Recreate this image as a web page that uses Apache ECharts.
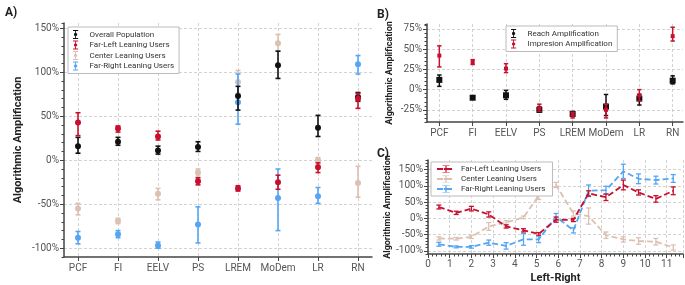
<!DOCTYPE html>
<html>
<head>
<meta charset="utf-8">
<script src="https://cdn.jsdelivr.net/npm/echarts@6/dist/echarts.min.js"></script>
<style>
  html, body { margin: 0; padding: 0; background: #fff; }
  #main { width: 685px; height: 285px; }
</style>
</head>
<body>
<div id="main"></div>
<script>
// ---- panel A: amplification by party, per user group
var partyCats = ['PCF', 'FI', 'EELV', 'PS', 'LREM', 'MoDem', 'LR', 'RN'];

var overallVal  = [16, 21, 11, 15, 73, 108, 37, 72];
var overallLow  = [8, 17, 7, 10, 57, 93, 27, 67];
var overallHigh = [26, 26, 16, 21, 84, 124, 51, 77];

var farLeftVal  = [43, 36, 27, -24, -32, -25, -8, 70];
var farLeftLow  = [28, 32, 23, -28, -35, -33, -14, 59];
var farLeftHigh = [54, 39, 33, -20, -29, -17, -3, 76];

var centerVal  = [-55, -69, -38, -14, 89, 133, 0, -26];
var centerLow  = [-62, -72, -45, -18, 76, 124, -5, -42];
var centerHigh = [-49, -66, -32, -10, 102, 143, 3, -7];

var farRightVal  = [-88, -84, -97, -73, 66, -43, -41, 109];
var farRightLow  = [-95, -88, -100, -94, 41, -80, -49, 98];
var farRightHigh = [-81, -80, -93, -53, 98, -10, -31, 119];

// ---- panel B: reach vs impression
var reachVal  = [12, -10, -7, -25, -30, -21, -11, 11];
var reachLow  = [4, -12, -12, -28, -33, -32, -19, 7];
var reachHigh = [18, -8, -1, -21, -27, -6, -6, 17];

var imprVal  = [42, 34, 26, -23, -31, -25, -7, 66];
var imprLow  = [28, 31, 21, -27, -35, -35, -14, 60];
var imprHigh = [54, 37, 32, -18, -28, -18, 0, 77];

// ---- panel C: along the left-right scale
var lrPos = [0.5, 1.3, 2.0, 2.8, 3.6, 4.4, 5.1, 5.9, 6.7, 7.4, 8.2, 9.0, 9.7, 10.5, 11.3];
var cLeftVal   = [35, 17, 30, 12, -25, -37, -48, -4, -5, 77, 65, 103, 80, 60, 85];
var cLeftErr   = [6, 5, 7, 8, 5, 5, 4, 8, 5, 8, 10, 15, 8, 10, 12];
var cCenterVal = [-62, -63, -57, -25, -13, 3, 70, 103, 15, 7, -52, -65, -70, -72, -90];
var cCenterErr = [5, 4, 5, 12, 6, 4, 12, 8, 8, 25, 10, 8, 10, 10, 8];
var cRightVal  = [-80, -88, -88, -75, -85, -65, -65, 5, -37, 85, 87, 145, 122, 118, 123];
var cRightErr  = [6, 3, 4, 8, 10, 18, 10, 10, 8, 18, 12, 22, 15, 12, 12];

var ticksA = [-100, -50, 0, 50, 100, 150];
var ticksB = [-25, 0, 25, 50, 75];
var ticksC = [-100, -50, 0, 50, 100, 150];

var BLACK = '#111111', RED = '#c8102e', BEIGE = '#dcc0b2', BLUE = '#55a5f5';
var FONT = 'Roboto';
var AXIS_COL = '#444';

var errIcon = 'path://M0,0h8v1.4h-8zM3.3,0h1.4v14h-1.4zM0,12.6h8v1.4h-8zM1.6,5h4.8v4h-4.8z';

function pts(xs, vals) {
  return vals.map(function (v, i) { return [xs[i], v]; });
}
function bars(xs, lows, highs) {
  return lows.map(function (l, i) { return [xs[i], l, highs[i]]; });
}
function barsErr(xs, vals, errs) {
  return vals.map(function (v, i) { return [xs[i], v - errs[i], v + errs[i]]; });
}

function errRender(capW, lw) {
  return function (params, api) {
    var x = api.value(0);
    var lo = api.coord([x, api.value(1)]);
    var hi = api.coord([x, api.value(2)]);
    var st = { stroke: api.visual('color'), lineWidth: lw };
    return {
      type: 'group',
      children: [
        { type: 'line', shape: { x1: lo[0], y1: lo[1], x2: hi[0], y2: hi[1] }, style: st },
        { type: 'line', shape: { x1: lo[0] - capW, y1: lo[1], x2: lo[0] + capW, y2: lo[1] }, style: st },
        { type: 'line', shape: { x1: hi[0] - capW, y1: hi[1], x2: hi[0] + capW, y2: hi[1] }, style: st }
      ]
    };
  };
}

var idx = partyCats.map(function (c, i) { return i; });

function errSeries(name, color, xi, yi, data, capW, lw, z) {
  return {
    name: name, type: 'custom', xAxisIndex: xi, yAxisIndex: yi,
    renderItem: errRender(capW, lw), itemStyle: { color: color },
    encode: { x: 0, y: [1, 2] }, data: data, z: z, silent: true
  };
}
function dotSeries(name, color, xi, yi, data, symbol, size, z) {
  return {
    name: name, type: 'scatter', xAxisIndex: xi, yAxisIndex: yi,
    symbol: symbol, symbolSize: size, itemStyle: { color: color, opacity: 1 },
    data: data, z: z
  };
}

var pctLabel = { fontFamily: FONT, fontSize: 10, color: '#555', formatter: '{value}%' };
var dashGrid = { show: true, lineStyle: { color: '#c8c8c8', type: [3, 2], width: 0.8 } };

function mainY(grid, min, max, ticks, gap, nameSize) {
  return {
    type: 'value', gridIndex: grid, min: min, max: max,
    name: 'Algorithmic Amplification', nameLocation: 'middle', nameRotate: 90, nameGap: gap,
    nameTextStyle: { fontFamily: FONT, fontSize: nameSize, fontWeight: 'bold', color: '#222' },
    axisLine: { show: true, onZero: false, lineStyle: { color: AXIS_COL, width: 1.5 } },
    axisTick: { show: true, length: 4, lineStyle: { color: AXIS_COL }, customValues: ticks },
    axisLabel: Object.assign({ customValues: ticks, margin: 5 }, pctLabel),
    splitLine: dashGrid
  };
}
function minorY(grid, min, max, step) {
  return {
    type: 'value', gridIndex: grid, min: min, max: max, interval: step, position: 'left',
    axisLine: { show: false, onZero: false }, axisLabel: { show: false }, splitLine: { show: false },
    axisTick: { show: true, length: 2.5, lineStyle: { color: AXIS_COL } }
  };
}
function catX(grid, min, max) {
  return {
    type: 'value', gridIndex: grid, min: min, max: max,
    axisLine: { show: true, onZero: false, lineStyle: { color: AXIS_COL, width: 1.5 } },
    axisTick: { show: true, length: 4, lineStyle: { color: AXIS_COL }, customValues: idx },
    axisLabel: {
      customValues: idx, fontFamily: FONT, fontSize: 10, color: '#555', margin: 6,
      formatter: function (v) { return partyCats[Math.round(v)]; }
    },
    splitLine: dashGrid
  };
}

function legendBox(left, top, iw, data, gap) {
  return {
    orient: 'vertical', left: left, top: top, padding: [3, 5, 3, 5], itemGap: gap,
    itemWidth: iw, itemHeight: 9, backgroundColor: '#fff', borderColor: '#bbb', borderWidth: 1,
    textStyle: { fontFamily: FONT, fontSize: 8, color: '#333', padding: [0, 0, 0, iw > 10 ? 1 : 5] },
    data: data
  };
}

var chart = echarts.init(document.getElementById('main'), null, { renderer: 'canvas' });

var titleStyle = { fontFamily: FONT, fontSize: 12, fontWeight: 'bold', color: '#222' };

var option = {
  backgroundColor: '#fff',
  animation: false,
  textStyle: { fontFamily: FONT },
  title: [
    { text: 'A)', left: 0, top: 2, textStyle: titleStyle },
    { text: 'B)', left: 372, top: 4, textStyle: titleStyle },
    { text: 'C)', left: 372, top: 143, textStyle: titleStyle }
  ],
  grid: [
    { left: 64, right: 313, top: 23, bottom: 28 },
    { left: 427, right: 2, top: 24, bottom: 163 },
    { left: 428, right: 2, top: 160, bottom: 28 }
  ],
  legend: [
    legendBox(68, 27, 8, [
      { name: 'Overall Population', icon: errIcon },
      { name: 'Far-Left Leaning Users', icon: errIcon },
      { name: 'Center Leaning Users', icon: errIcon },
      { name: 'Far-Right Leaning Users', icon: errIcon }
    ], 1.5),
    legendBox(506, 26, 8, [
      { name: 'Reach Amplification', icon: errIcon },
      { name: 'Impresion Amplification', icon: errIcon }
    ], 1.5),
    legendBox(431, 162, 18, ['Far-Left Leaning Users ', 'Center Leaning Users ', 'Far-Right Leaning Users '], 2)
  ],
  xAxis: [
    catX(0, -0.35, 7.35),
    catX(1, -0.37, 7.31),
    {
      type: 'value', gridIndex: 2, min: 0, max: 11.75, interval: 1,
      name: 'Left-Right', nameLocation: 'middle', nameGap: 19,
      nameTextStyle: { fontFamily: FONT, fontSize: 11, fontWeight: 'bold', color: '#222' },
      axisLine: { show: true, onZero: false, lineStyle: { color: AXIS_COL, width: 1.5 } },
      axisTick: { show: true, length: 4, lineStyle: { color: AXIS_COL } },
      minorTick: { show: true, splitNumber: 5, length: 2.5, lineStyle: { color: AXIS_COL } },
      axisLabel: { fontFamily: FONT, fontSize: 10, color: '#555', margin: 5, showMaxLabel: false },
      splitLine: dashGrid
    }
  ],
  yAxis: [
    mainY(0, -110, 156, ticksA, 40, 11),
    minorY(0, -110, 156, 10),
    mainY(1, -40, 81, ticksB, 33, 9),
    minorY(1, -40, 81, 5),
    mainY(2, -110, 180, ticksC, 34, 9),
    minorY(2, -110, 180, 10)
  ],
  series: [
    // panel A
    errSeries('Center Leaning Users', BEIGE, 0, 0, bars(idx, centerLow, centerHigh), 2.5, 1.6, 2),
    dotSeries('Center Leaning Users', BEIGE, 0, 0, pts(idx, centerVal), 'circle', 6, 3),
    errSeries('Far-Right Leaning Users', BLUE, 0, 0, bars(idx, farRightLow, farRightHigh), 2.5, 1.6, 4),
    dotSeries('Far-Right Leaning Users', BLUE, 0, 0, pts(idx, farRightVal), 'circle', 6, 5),
    errSeries('Overall Population', BLACK, 0, 0, bars(idx, overallLow, overallHigh), 2.5, 1.6, 6),
    dotSeries('Overall Population', BLACK, 0, 0, pts(idx, overallVal), 'circle', 6, 7),
    errSeries('Far-Left Leaning Users', RED, 0, 0, bars(idx, farLeftLow, farLeftHigh), 2.5, 1.6, 8),
    dotSeries('Far-Left Leaning Users', RED, 0, 0, pts(idx, farLeftVal), 'circle', 6, 9),

    // panel B
    errSeries('Reach Amplification', BLACK, 1, 2, bars(idx, reachLow, reachHigh), 2.2, 1.5, 4),
    dotSeries('Reach Amplification', BLACK, 1, 2, pts(idx, reachVal), 'rect', 6, 5),
    errSeries('Impresion Amplification', RED, 1, 2, bars(idx, imprLow, imprHigh), 2.2, 1.5, 6),
    dotSeries('Impresion Amplification', RED, 1, 2, pts(idx, imprVal), 'rect', 4, 7),

    // panel C
    {
      name: 'Center Leaning Users ', type: 'line', xAxisIndex: 2, yAxisIndex: 4,
      data: pts(lrPos, cCenterVal), symbol: errIcon, symbolSize: [6, 10], showSymbol: false,
      itemStyle: { color: BEIGE }, lineStyle: { color: BEIGE, width: 1.8, type: [6, 3] }, z: 2
    },
    errSeries('Center Leaning Users ', BEIGE, 2, 4, barsErr(lrPos, cCenterVal, cCenterErr), 2.5, 1.3, 3),
    {
      name: 'Far-Right Leaning Users ', type: 'line', xAxisIndex: 2, yAxisIndex: 4,
      data: pts(lrPos, cRightVal), symbol: errIcon, symbolSize: [6, 10], showSymbol: false,
      itemStyle: { color: BLUE }, lineStyle: { color: BLUE, width: 1.8, type: [6, 3] }, z: 4
    },
    errSeries('Far-Right Leaning Users ', BLUE, 2, 4, barsErr(lrPos, cRightVal, cRightErr), 2.5, 1.3, 5),
    {
      name: 'Far-Left Leaning Users ', type: 'line', xAxisIndex: 2, yAxisIndex: 4,
      data: pts(lrPos, cLeftVal), symbol: errIcon, symbolSize: [6, 10], showSymbol: false,
      itemStyle: { color: RED }, lineStyle: { color: RED, width: 1.8, type: [6, 3] }, z: 6
    },
    errSeries('Far-Left Leaning Users ', RED, 2, 4, barsErr(lrPos, cLeftVal, cLeftErr), 2.5, 1.3, 7)
  ]
};

chart.setOption(option);
</script>
</body>
</html>
